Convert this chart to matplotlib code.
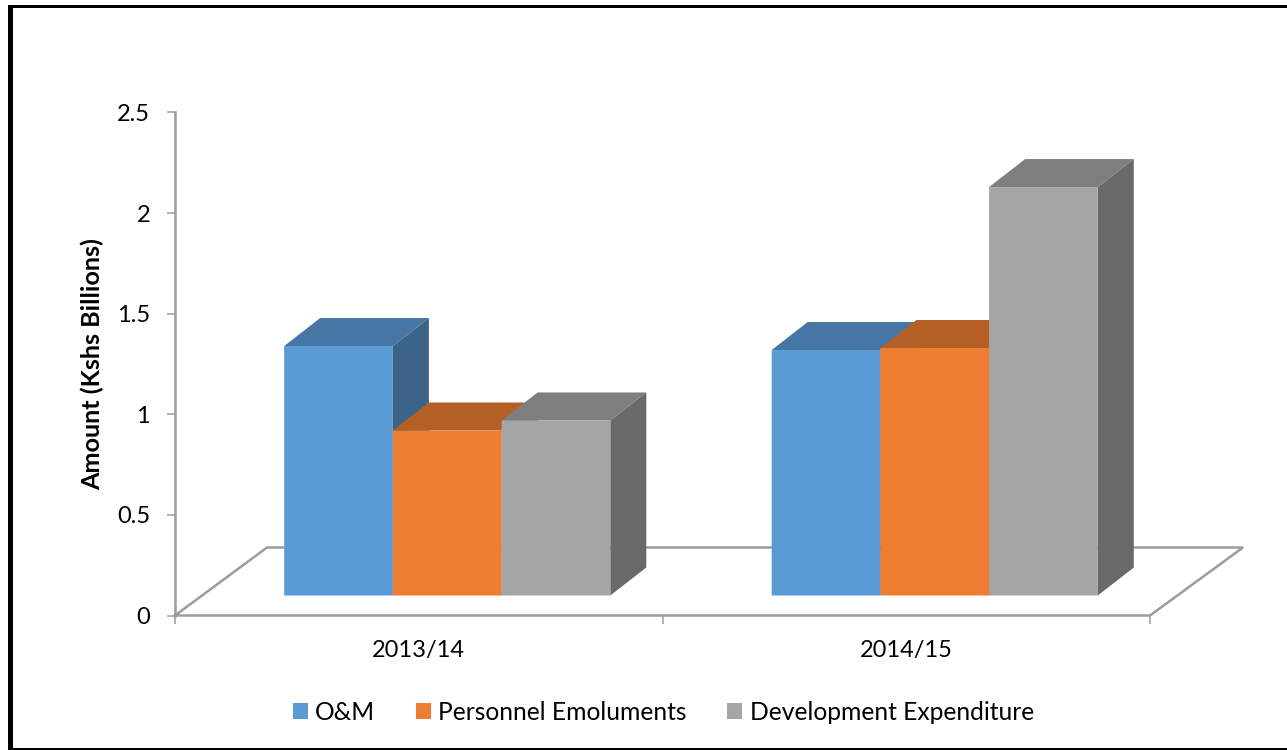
import matplotlib
matplotlib.use("Agg")
import matplotlib.pyplot as plt
from matplotlib.patches import Patch, Polygon, Rectangle

years = ["2013/14", "2014/15"]
series_names = ["O&M", "Personnel Emoluments", "Development Expenditure"]
om = [1.24, 1.22]
personnel = [0.82, 1.23]
development = [0.87, 2.03]
y_ticks = [0, 0.5, 1, 1.5, 2, 2.5]
y_tick_labels = ["0", "0.5", "1", "1.5", "2", "2.5"]

W, H = 1287, 750
GRAY = "#9c9c9c"
TICK_FONT = 17
LEGEND_FONT = 17.7
plt.rcParams["font.family"] = ["Lato", "DejaVu Sans"]

front_colors = ["#5b9bd5", "#ed7d31", "#a5a5a5"]
top_colors = ["#4676a3", "#b45f25", "#7e7e7e"]
side_colors = ["#3c6488", "#b45f25", "#696969"]

fig = plt.figure(figsize=(W / 100, H / 100), dpi=100)
ax = fig.add_axes([175 / W, 1 - 615.5 / H, 975 / W, 503 / H])
ax.set_xlim(0, 2)
ax.set_ylim(0, 2.5)
ax.patch.set_alpha(0)

# pixel sizes turned into data units
px_x = 2 / 975
px_y = 2.5 / 503
depth_x = 36 * px_x
depth_y = 28 * px_y
base = 20 * px_y
bar_w = 108.7 * px_x
shift = 28.5 * px_x

# floor of the 3d chart
floor_x = [0, 92 * px_x, 1068 * px_x, 975 * px_x, 0]
floor_y = [0, 68 * px_y, 68 * px_y, 0, 0]
ax.plot(floor_x, floor_y, color=GRAY, lw=1.8, clip_on=False, zorder=1, solid_joinstyle="miter")

values = [om, personnel, development]
z = 2
for g in range(len(years)):
    left0 = g + 0.5 + shift - 1.5 * bar_w
    for s in range(3):
        v = values[s][g]
        left = left0 + s * bar_w
        right = left + bar_w
        top = base + v
        side = Polygon([(right, base), (right + depth_x, base + depth_y),
                        (right + depth_x, top + depth_y), (right, top)],
                       fc=side_colors[s], ec="none", clip_on=False, zorder=z)
        cap = Polygon([(left, top), (left + depth_x, top + depth_y),
                       (right + depth_x, top + depth_y), (right, top)],
                      fc=top_colors[s], ec="none", clip_on=False, zorder=z)
        ax.add_patch(side)
        ax.add_patch(cap)
        ax.bar(left, v, width=bar_w, bottom=base, align="edge", color=front_colors[s],
               clip_on=False, zorder=z + 0.5, snap=False)
        z += 1

for name in ["top", "right", "bottom"]:
    ax.spines[name].set_visible(False)
ax.spines["left"].set_color(GRAY)
ax.spines["left"].set_linewidth(1.8)

ax.set_yticks(y_ticks)
ax.set_yticklabels(y_tick_labels, fontsize=TICK_FONT, color="black")
ax.tick_params(axis="y", length=6, width=1.1, color=GRAY, pad=12)
ax.set_xticks([0, 1, 2])
ax.set_xticklabels([])
ax.set_xticks([0.5, 1.5], minor=True)
ax.set_xticklabels(years, minor=True, fontsize=TICK_FONT, color="black")
ax.tick_params(axis="x", which="major", length=6, width=1.1, color=GRAY)
ax.tick_params(axis="x", which="minor", length=0, pad=18)
ax.set_ylabel("Amount (Kshs Billions)", fontsize=18.2, fontweight="bold", color="black")
ax.yaxis.set_label_coords((104 - 175) / 975, (615 - 364) / 503)

handles = [Patch(fc=c, ec="none") for c in front_colors]
fig.legend(handles, series_names, loc="center", ncol=3, frameon=False, fontsize=LEGEND_FONT,
           bbox_to_anchor=(663.5 / W, 1 - 712 / H), handlelength=0.61, handleheight=0.61,
           handletextpad=0.3, columnspacing=1.65, borderpad=0, borderaxespad=0)

# black frame round the picture
fig.add_artist(Rectangle((8 / W, 0), 5 / W, 1 - 5 / H, fc="black", ec="none"))
fig.add_artist(Rectangle((8 / W, 1 - 8 / H), 1 - 8 / W, 3 / H, fc="black", ec="none"))
fig.add_artist(Rectangle((8 / W, 0), 1 - 8 / W, 2 / H, fc="black", ec="none"))

fig.savefig("out.png", dpi=100)
